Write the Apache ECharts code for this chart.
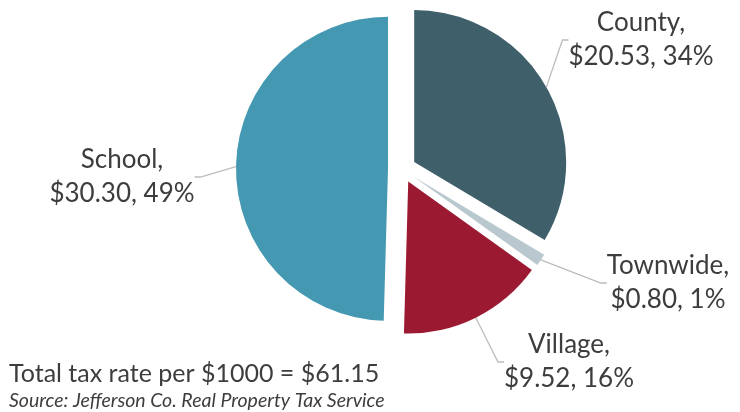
<!DOCTYPE html>
<html>
<head>
<meta charset="utf-8">
<script src="https://cdn.jsdelivr.net/npm/echarts@6/dist/echarts.min.js"></script>
<style>
html, body { margin: 0; padding: 0; background: #fff; }
#chart { width: 740px; height: 412px; }
</style>
</head>
<body>
<div id="chart"></div>
<script>
const names = ['County', 'Townwide', 'Village', 'School']
const rates = [20.53, 0.80, 9.52, 30.30]
const shares = [34, 1, 16, 49]
const colors = ['#3f5f6b', '#b9c8ce', '#9c1a31', '#4598b2']
const totalText = 'Total tax rate per $1000 = $61.15'
const sourceText = 'Source: Jefferson Co. Real Property Tax Service'

// label block centres (pixel); the label line follows them
const labelSpots = [
    { x: 641, y: 40 },
    { x: 668, y: 283 },
    { x: 569, y: 362 },
    { x: 122, y: 177 }
]

const pieCenter = [402, 169]
const pieRadius = 152
const explode = 14

// each slice is its own series, pushed out along its mid angle
const total = rates.reduce((a, b) => a + b, 0)
let acc = 0
const series = names.map((n, i) => {
    const mid = (acc + rates[i] / 2) / total * Math.PI * 2
    acc += rates[i]
    return {
        type: 'pie',
        center: [pieCenter[0] + explode * Math.sin(mid), pieCenter[1] - explode * Math.cos(mid)],
        radius: pieRadius,
        startAngle: 90,
        silent: true,
        animation: false,
        avoidLabelOverlap: false,
        label: {
            show: false,
            position: 'outside',
            color: '#3d3d3d',
            fontSize: 26,
            lineHeight: 34,
            align: 'center',
            formatter: p => p.name + ',\n$' + rates[p.dataIndex].toFixed(2) + ', ' + shares[p.dataIndex] + '%'
        },
        labelLine: {
            show: false,
            length: 10,
            length2: 6,
            smooth: false,
            lineStyle: { color: '#bcbcbc', width: 1.3 }
        },
        labelLayout: p => p.dataIndex === i ? {
            x: labelSpots[i].x,
            y: labelSpots[i].y,
            align: 'center',
            verticalAlign: 'middle'
        } : {},
        data: names.map((m, j) => ({
            name: m,
            value: rates[j],
            itemStyle: { color: j === i ? colors[j] : 'rgba(0,0,0,0)' },
            label: { show: j === i },
            labelLine: { show: j === i }
        }))
    }
})

const chart = echarts.init(document.getElementById('chart'))
const option = {
    textStyle: { fontFamily: 'Lato' },
    graphic: [
        {
            type: 'text', left: 9, top: 361,
            style: { text: totalText, fontSize: 25, fill: '#3d3d3d', fontFamily: 'Lato' }
        },
        {
            type: 'text', left: 9, top: 391,
            style: { text: sourceText, fontSize: 19.5, fontStyle: 'italic', fill: '#3d3d3d', fontFamily: 'Lato' }
        }
    ],
    series: series
}
chart.setOption(option)
</script>
</body>
</html>
